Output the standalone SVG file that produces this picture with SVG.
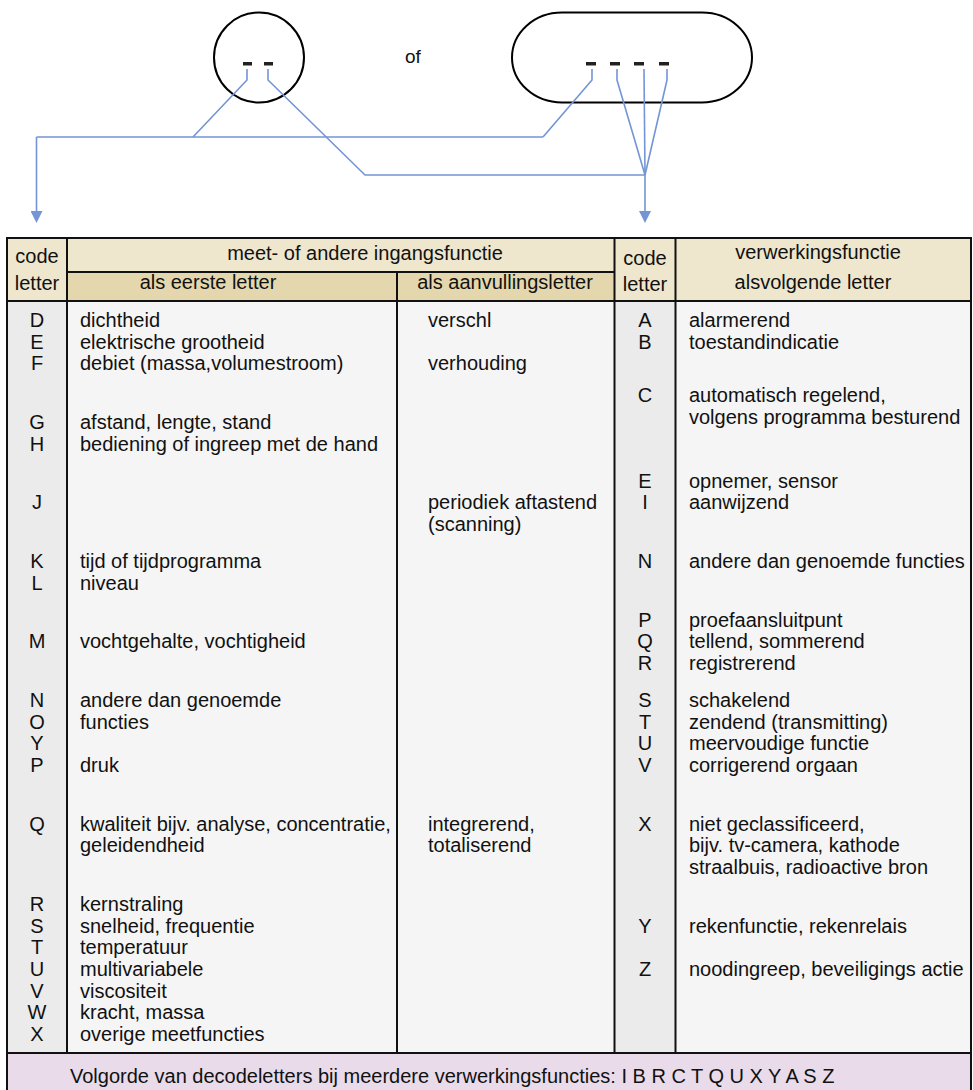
<svg xmlns="http://www.w3.org/2000/svg" width="973" height="1090" viewBox="0 0 973 1090">
  <defs>
    <style>
      .t { font-family: "Liberation Sans", Arial, sans-serif; font-size: 20px; fill: #111; }
      .m { text-anchor: middle; }
      .grid { stroke: #111; stroke-width: 2; fill: none; }
      .wire { stroke: #7395d5; stroke-width: 1.6; fill: none; stroke-linejoin: round; }
      .dash { fill: #222; }
      .shape { fill: none; stroke: #000; stroke-width: 2; }
    </style>
    <marker id="arrow" viewBox="0 0 12 12" refX="0" refY="6" markerWidth="12" markerHeight="12" markerUnits="userSpaceOnUse" orient="auto">
      <path d="M0,0 L12,6 L0,12 Z" fill="#7395d5"/>
    </marker>
  </defs>
  <rect width="973" height="1090" fill="#fff"/>

  <!-- two-letter instrument bubble -->
  <g id="node-circle">
    <circle class="shape" cx="259" cy="57.5" r="45"/>
    <rect class="dash" x="243" y="62" width="9" height="3.5"/>
    <rect class="dash" x="264" y="62" width="9" height="3.5"/>
  </g>

  <text id="label-of" class="t" x="405" y="63" style="font-size:19px">of</text>

  <!-- four-letter instrument bubble -->
  <g id="node-stadium">
    <rect class="shape" x="512" y="12.5" width="240" height="90" rx="50" ry="45"/>
    <rect class="dash" x="586" y="62" width="10" height="3.5"/>
    <rect class="dash" x="610" y="62" width="10" height="3.5"/>
    <rect class="dash" x="634" y="62" width="10" height="3.5"/>
    <rect class="dash" x="659" y="62" width="10" height="3.5"/>
  </g>

  <!-- leader lines from the letter positions to the table columns -->
  <g id="connectors">
    <polyline class="wire" points="247,69 247,80 193,137"/>
    <polyline class="wire" points="592,69 592,80 543,137"/>
    <polyline class="wire" points="36.5,137 543,137"/>
    <polyline class="wire" points="36.5,137 36.5,211" marker-end="url(#arrow)"/>
    <polyline class="wire" points="268,69 268,80 365,175 645,175"/>
    <polyline class="wire" points="617,69 617,80 645,175"/>
    <polyline class="wire" points="644,69 645,175"/>
    <polyline class="wire" points="667,69 667,80 645,175"/>
    <polyline class="wire" points="645,175 645,211" marker-end="url(#arrow)"/>
  </g>

  <!-- table backgrounds -->
  <g id="table-cells">
    <rect x="7" y="238" width="964" height="63" fill="#eee6cd"/>
    <rect x="67" y="272" width="547.5" height="29" fill="#e4d7ad"/>
    <rect x="7" y="301" width="964" height="752" fill="#f5f5f5"/>
    <rect x="7" y="301" width="60" height="752" fill="#ebebeb"/>
    <rect x="614.5" y="301" width="61" height="752" fill="#ebebeb"/>
    <rect x="7" y="1053" width="964" height="40" fill="#e9dbe9"/>
  </g>

  <!-- table rules -->
  <g id="table-grid">
    <rect class="grid" x="7" y="238" width="964" height="856"/>
    <line class="grid" x1="7" y1="301" x2="971" y2="301"/>
    <line class="grid" x1="67" y1="272" x2="614.5" y2="272"/>
    <line class="grid" x1="7" y1="1053" x2="971" y2="1053"/>
    <line class="grid" x1="67" y1="238" x2="67" y2="1053"/>
    <line class="grid" x1="397" y1="272" x2="397" y2="1053"/>
    <line class="grid" x1="614.5" y1="238" x2="614.5" y2="1053"/>
    <line class="grid" x1="675.5" y1="238" x2="675.5" y2="1053"/>
  </g>

  <!-- column headings -->
  <g id="table-header">
    <text class="t m" x="37" y="263">code</text>
    <text class="t m" x="37" y="290">letter</text>
    <text class="t m" x="365" y="259.5">meet- of andere ingangsfunctie</text>
    <text class="t m" x="208" y="288.5">als eerste letter</text>
    <text class="t m" x="505" y="288.5">als aanvullingsletter</text>
    <text class="t m" x="645" y="265">code</text>
    <text class="t m" x="645" y="291">letter</text>
    <text class="t m" x="818" y="259">verwerkingsfunctie</text>
    <text class="t m" x="813" y="288.5">alsvolgende letter</text>
  </g>

  <!-- measured / initiating variable: first letter -->
  <g id="col-first-letter">
    <text class="t m" x="37" y="327">D</text><text class="t" x="80" y="327">dichtheid</text>
    <text class="t m" x="37" y="348.7">E</text><text class="t" x="80" y="348.7">elektrische grootheid</text>
    <text class="t m" x="37" y="370.4">F</text><text class="t" x="80" y="370.4">debiet (massa,volumestroom)</text>
    <text class="t m" x="37" y="429">G</text><text class="t" x="80" y="429">afstand, lengte, stand</text>
    <text class="t m" x="37" y="450.7">H</text><text class="t" x="80" y="450.7">bediening of ingreep met de hand</text>
    <text class="t m" x="37" y="509.3">J</text>
    <text class="t m" x="37" y="567.9">K</text><text class="t" x="80" y="567.9">tijd of tijdprogramma</text>
    <text class="t m" x="37" y="589.6">L</text><text class="t" x="80" y="589.6">niveau</text>
    <text class="t m" x="37" y="648.2">M</text><text class="t" x="80" y="648.2">vochtgehalte, vochtigheid</text>
    <text class="t m" x="37" y="706.8">N</text><text class="t" x="80" y="706.8">andere dan genoemde</text>
    <text class="t m" x="37" y="728.5">O</text><text class="t" x="80" y="728.5">functies</text>
    <text class="t m" x="37" y="750.2">Y</text>
    <text class="t m" x="37" y="771.9">P</text><text class="t" x="80" y="771.9">druk</text>
    <text class="t m" x="37" y="830.5">Q</text><text class="t" x="80" y="830.5">kwaliteit bijv. analyse, concentratie,</text>
    <text class="t" x="80" y="852.2">geleidendheid</text>
    <text class="t m" x="37" y="910.8">R</text><text class="t" x="80" y="910.8">kernstraling</text>
    <text class="t m" x="37" y="932.5">S</text><text class="t" x="80" y="932.5">snelheid, frequentie</text>
    <text class="t m" x="37" y="954.2">T</text><text class="t" x="80" y="954.2">temperatuur</text>
    <text class="t m" x="37" y="975.9">U</text><text class="t" x="80" y="975.9">multivariabele</text>
    <text class="t m" x="37" y="997.6">V</text><text class="t" x="80" y="997.6">viscositeit</text>
    <text class="t m" x="37" y="1019.3">W</text><text class="t" x="80" y="1019.3">kracht, massa</text>
    <text class="t m" x="37" y="1041">X</text><text class="t" x="80" y="1041">overige meetfuncties</text>
  </g>

  <!-- modifier letter -->
  <g id="col-modifier">
    <text class="t" x="428" y="327">verschl</text>
    <text class="t" x="428" y="370.4">verhouding</text>
    <text class="t" x="428" y="509.3">periodiek aftastend</text>
    <text class="t" x="428" y="531">(scanning)</text>
    <text class="t" x="428" y="830.5">integrerend,</text>
    <text class="t" x="428" y="852.2">totaliserend</text>
  </g>

  <!-- output / readout function: succeeding letters -->
  <g id="col-function">
    <text class="t m" x="645" y="327">A</text><text class="t" x="689" y="327">alarmerend</text>
    <text class="t m" x="645" y="348.7">B</text><text class="t" x="689" y="348.7">toestandindicatie</text>
    <text class="t m" x="645" y="402">C</text><text class="t" x="689" y="402">automatisch regelend,</text>
    <text class="t" x="689" y="424">volgens programma besturend</text>
    <text class="t m" x="645" y="487.6">E</text><text class="t" x="689" y="487.6">opnemer, sensor</text>
    <text class="t m" x="645" y="509.3">I</text><text class="t" x="689" y="509.3">aanwijzend</text>
    <text class="t m" x="645" y="567.9">N</text><text class="t" x="689" y="567.9">andere dan genoemde functies</text>
    <text class="t m" x="645" y="626.5">P</text><text class="t" x="689" y="626.5">proefaansluitpunt</text>
    <text class="t m" x="645" y="648.2">Q</text><text class="t" x="689" y="648.2">tellend, sommerend</text>
    <text class="t m" x="645" y="669.9">R</text><text class="t" x="689" y="669.9">registrerend</text>
    <text class="t m" x="645" y="706.8">S</text><text class="t" x="689" y="706.8">schakelend</text>
    <text class="t m" x="645" y="728.5">T</text><text class="t" x="689" y="728.5">zendend (transmitting)</text>
    <text class="t m" x="645" y="750.2">U</text><text class="t" x="689" y="750.2">meervoudige functie</text>
    <text class="t m" x="645" y="771.9">V</text><text class="t" x="689" y="771.9">corrigerend orgaan</text>
    <text class="t m" x="645" y="830.5">X</text><text class="t" x="689" y="830.5">niet geclassificeerd,</text>
    <text class="t" x="689" y="852.2">bijv. tv-camera, kathode</text>
    <text class="t" x="689" y="874">straalbuis, radioactive bron</text>
    <text class="t m" x="645" y="932.5">Y</text><text class="t" x="689" y="932.5">rekenfunctie, rekenrelais</text>
    <text class="t m" x="645" y="975.9">Z</text><text class="t" x="689" y="975.9">noodingreep, beveiligings actie</text>
  </g>

  <!-- sequence note -->
  <g id="table-footer">
    <text class="t" x="70" y="1083">Volgorde van decodeletters bij meerdere verwerkingsfuncties: I B R C T Q U X Y A S Z</text>
  </g>
</svg>
